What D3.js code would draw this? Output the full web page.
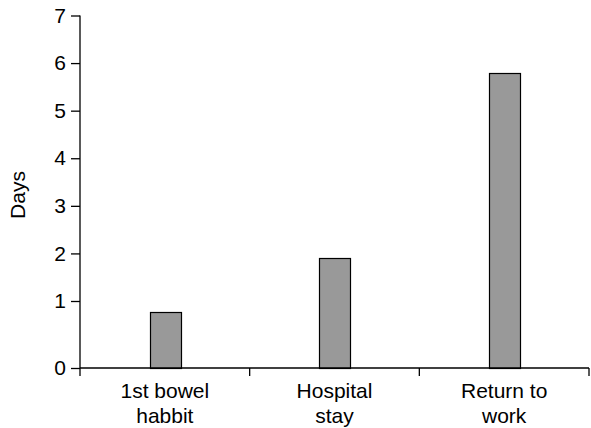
<!DOCTYPE html>
<html>
<head>
<meta charset="utf-8">
<script src="https://cdn.jsdelivr.net/npm/d3@7"></script>
<style>
  html, body { margin: 0; padding: 0; background: #fff; }
  svg { display: block; }
  text { font-family: "Liberation Sans", Arial, sans-serif; fill: #000; }
</style>
</head>
<body>
<svg id="chart" width="591" height="428"></svg>
<script>
const categories = [["1st bowel", "habbit"], ["Hospital", "stay"], ["Return to", "work"]];
const values = [0.83, 1.91, 5.8];
const yTicks = [0, 1, 2, 3, 4, 5, 6, 7];
const yLabel = "Days";

const svg = d3.select("#chart");
const left = 80, right = 589, bottom = 368;

const keys = categories.map(c => c.join(" "));
const x = d3.scaleBand().domain(keys).range([left, right]);
// axis in reference has a stretched first interval (0 to 1)
const y = d3.scaleLinear().domain([0, 1, 7]).range([bottom, 301, 15.5]);

// bars
const bw = x.bandwidth() * 0.18;
svg.append("g").selectAll("rect").data(values).join("rect")
  .attr("x", (d, i) => Math.round(x(keys[i]) + x.bandwidth() / 2 - bw / 2) + 0.5)
  .attr("y", d => Math.round(y(d)) + 0.5)
  .attr("width", Math.round(bw))
  .attr("height", d => Math.round(y(0)) - Math.round(y(d)))
  .attr("fill", "#999999")
  .attr("stroke", "#000")
  .attr("stroke-width", 1.2);

// y axis
const yAxis = d3.axisLeft(y).tickValues(yTicks).tickSize(9).tickPadding(5).tickFormat(d3.format("d"));
const gy = svg.append("g").attr("transform", `translate(${left},0)`).call(yAxis);
gy.select(".domain").remove();
gy.append("line").attr("x1", 0).attr("x2", 0).attr("y1", y(7)).attr("y2", bottom + 8)
  .attr("stroke", "#000").attr("stroke-width", 1.3);
gy.selectAll(".tick line").attr("stroke", "#000").attr("stroke-width", 1.3);
gy.selectAll(".tick text").attr("font-size", 21).attr("fill", "#000")
  .style("font-family", '"Liberation Sans", Arial, sans-serif');

// x axis
const gx = svg.append("g").attr("transform", `translate(0,${bottom})`);
gx.append("line").attr("x1", left).attr("x2", right).attr("y1", 0).attr("y2", 0)
  .attr("stroke", "#000").attr("stroke-width", 1.3);
const bounds = keys.map(k => x(k) + x.bandwidth());
gx.selectAll("line.tk").data(bounds).join("line").attr("class", "tk")
  .attr("x1", d => d).attr("x2", d => d).attr("y1", 0).attr("y2", 8)
  .attr("stroke", "#000").attr("stroke-width", 1.3);
gx.selectAll("text.cat").data(categories).join("text").attr("class", "cat")
  .attr("text-anchor", "middle")
  .attr("font-size", 21)
  .attr("transform", (d, i) => `translate(${x(keys[i]) + x.bandwidth() / 2},0)`)
  .each(function(d) {
    const t = d3.select(this);
    d.forEach((line, j) => {
      t.append("tspan").attr("x", 0).attr("y", 30 + j * 25).text(line);
    });
  });

// y label
svg.append("text")
  .attr("transform", `translate(25,195) rotate(-90)`)
  .attr("text-anchor", "middle")
  .attr("font-size", 21)
  .text(yLabel);
</script>
</body>
</html>
